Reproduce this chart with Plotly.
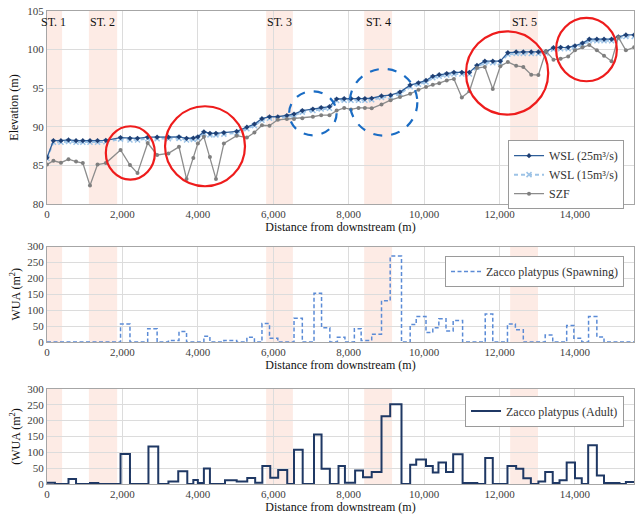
import plotly.graph_objects as go

# ---------------- data ----------------
dist_km = [0.00, 0.17, 0.37, 0.57, 0.77, 0.95, 1.14, 1.34, 1.56, 1.95, 2.20, 2.40, 2.67, 2.92, 3.22,
           3.50, 3.70, 3.88, 4.00, 4.16, 4.32, 4.48, 4.69, 5.03, 5.30, 5.50, 5.70, 5.90, 6.12, 6.36,
           6.55, 6.77, 7.05, 7.27, 7.49, 7.68, 7.88, 8.06, 8.26, 8.43, 8.61, 8.87, 9.11, 9.36, 9.63,
           9.85, 10.05, 10.23, 10.40, 10.60, 10.79, 11.00, 11.20, 11.40, 11.61, 11.82, 12.02, 12.22,
           12.44, 12.63, 12.84, 13.03, 13.23, 13.43, 13.62, 13.82, 14.00, 14.20, 14.38, 14.58, 14.77,
           14.97, 15.15, 15.35, 15.57]
distance = [round(d * 1000) for d in dist_km]

wsl25 = [86.0, 88.2, 88.2, 88.3, 88.2, 88.2, 88.2, 88.2, 88.25, 88.6, 88.5, 88.5, 88.65, 88.65, 88.65,
         88.7, 88.5, 88.55, 88.7, 89.35, 89.15, 89.15, 89.25, 89.4, 89.95, 90.35, 91.05, 91.3, 91.3, 91.45,
         91.65, 92.1, 92.3, 92.5, 92.6, 93.6, 93.65, 93.65, 93.65, 93.65, 93.7, 94.0, 94.1, 94.5, 95.4,
         95.7, 96.0, 96.55, 96.75, 96.9, 97.05, 97.05, 97.05, 97.95, 98.5, 98.5, 98.5, 99.6,
         99.7, 99.7, 99.7, 99.7, 99.75, 100.25, 100.3, 100.3, 100.5, 100.85, 101.35, 101.35, 101.35,
         101.35, 101.65, 101.9, 101.9]

wsl15 = [85.9, 88.0, 88.0, 88.1, 88.0, 88.0, 88.0, 88.0, 88.05, 88.4, 88.3, 88.3, 88.45, 88.45, 88.45,
         88.5, 88.3, 88.35, 88.5, 89.1, 88.95, 88.95, 89.05, 89.2, 89.75, 90.15, 90.85, 91.1, 91.1, 91.25,
         91.45, 91.9, 92.1, 92.3, 92.4, 93.4, 93.45, 93.45, 93.45, 93.45, 93.5, 93.8, 93.9, 94.3, 95.2,
         95.5, 95.8, 96.35, 96.55, 96.7, 96.85, 96.85, 96.85, 97.75, 98.3, 98.3, 98.3, 99.4,
         99.5, 99.5, 99.5, 99.5, 99.55, 100.05, 100.1, 100.1, 100.3, 100.65, 101.15, 101.15, 101.15,
         101.15, 101.45, 101.7, 101.7]

szf = [85.1, 85.6, 85.35, 85.8, 85.5, 85.3, 82.4, 85.1, 85.3, 87.0, 85.05, 84.0, 87.9, 86.35, 86.55,
       87.4, 83.25, 85.95, 87.85, 88.7, 86.1, 83.25, 87.85, 88.85, 88.6, 89.25, 90.2, 90.15, 90.9, 91.0,
       91.0, 91.1, 91.3, 91.5, 91.5, 92.1, 92.45, 92.25, 92.45, 92.45, 92.4, 92.9, 93.45, 93.85, 94.27,
       94.8, 95.15, 95.45, 95.65, 96.0, 96.2, 93.8, 94.6, 97.6, 97.75, 94.9, 97.85, 98.4,
       97.9, 97.75, 96.75, 96.7, 99.8, 98.7, 98.8, 99.1, 99.9, 100.3, 100.6, 99.9, 99.2,
       98.5, 101.6, 99.9, 100.3]

spawn_x = [0, 1950, 2200, 2670, 2920, 3220, 3500, 3700, 4160, 4320, 4690, 5030, 5300, 5500, 5700,
           5900, 6120, 6550, 6770, 7080, 7280, 7500, 7700, 7900, 8150, 8330, 8610, 8870, 9100, 9400,
           9630, 9790, 10050, 10230, 10390, 10580, 10770, 11020, 11620, 11820, 12210, 12420, 12630,
           13210, 13410, 13780, 13970, 14180, 14360, 14580, 14770, 15570]
spawn_wua = [0, 57, 0, 42, 0, 5, 33, 0, 18, 0, 5, 0, 15, 0, 58,
             12, 0, 75, 0, 153, 45, 0, 15, 0, 42, 5, 25, 130, 270, 0,
             55, 80, 30, 45, 73, 35, 68, 0, 88, 0, 57, 39, 0,
             22, 0, 52, 12, 0, 80, 16, 0, 0]

adult_x = [0, 210, 570, 770, 1140, 1360, 1950, 2200, 2690, 2950, 3220, 3480, 3720, 3880, 4000,
           4160, 4320, 4720, 5030, 5310, 5520, 5710, 5920, 6130, 6370, 6550, 6780, 7080, 7280, 7500,
           7730, 7900, 8170, 8380, 8610, 8870, 9100, 9400, 9630, 9790, 10050, 10230, 10380, 10580,
           10770, 11020, 11410, 11620, 11820, 12210, 12440, 12630, 12830, 13030, 13210, 13410, 13590,
           13780, 14000, 14180, 14350, 14580, 14770, 15180, 15350, 15570]
adult_wua = [4, 0, 16, 0, 3, 0, 95, 0, 118, 0, 8, 40, 0, 13, 3,
             49, 0, 12, 8, 19, 4, 57, 20, 44, 0, 108, 0, 156, 48, 0,
             57, 4, 43, 21, 38, 214, 252, 0, 61, 77, 57, 36, 68, 38,
             94, 3, 0, 82, 0, 57, 48, 18, 0, 8, 38, 3, 12,
             68, 18, 0, 122, 27, 3, 0, 6, 6]

station_names = ["ST. 1", "ST. 2", "ST. 3", "ST. 4", "ST. 5"]
station_start = [0, 1110, 5810, 8410, 12280]
station_end = [400, 1860, 6520, 9150, 13020]
station_label_x = [170, 1480, 6160, 8780, 12650]

x_ticks = [0, 2000, 4000, 6000, 8000, 10000, 12000, 14000]
x_range = [0, 15565]

# highlighted zones (x0, x1, y0, y1) in data units of the top panel
red_zones = [(1560, 2860, 83.16, 90.07), (3130, 5250, 82.3, 92.66),
             (11110, 13290, 91.58, 102.37), (13500, 15110, 95.9, 104.1)]
blue_zones = [(6420, 7680, 88.9, 94.6), (8030, 9820, 88.86, 97.5)]

# ---------------- figure ----------------
FONT = "'Liberation Serif', 'DejaVu Serif', 'Times New Roman', serif"
fig = go.Figure()

fig.add_trace(go.Scatter(x=distance, y=wsl25, name="WSL (25m\u00b3/s)", mode="lines+markers",
                         line=dict(color="#2f5f9a", width=1.3),
                         marker=dict(symbol="diamond", size=4, color="#1f3f73"),
                         xaxis="x", yaxis="y", legend="legend", legendrank=1))
fig.add_trace(go.Scatter(x=distance, y=wsl15, name="WSL (15m\u00b3/s)", mode="lines+markers",
                         line=dict(color="#9dc3e6", width=2, dash="4px,3px"),
                         marker=dict(symbol="x-thin", size=5, color="#9dc3e6", line=dict(width=1.5, color="#9dc3e6")),
                         xaxis="x", yaxis="y", legend="legend", legendrank=2))
fig.add_trace(go.Scatter(x=distance, y=szf, name="SZF", mode="lines+markers",
                         line=dict(color="#8c8c8c", width=1.3),
                         marker=dict(symbol="circle", size=4, color="#7f7f7f"),
                         xaxis="x", yaxis="y", legend="legend", legendrank=3))
# draw WSL 25 on top
fig.data = (fig.data[1], fig.data[0], fig.data[2])

fig.add_trace(go.Scatter(x=spawn_x, y=spawn_wua, name="Zacco platypus (Spawning)", mode="lines",
                         line=dict(color="#5b8bd6", width=1.5, dash="4px,2.5px", shape="hv"),
                         xaxis="x2", yaxis="y2", legend="legend2"))
fig.add_trace(go.Scatter(x=adult_x, y=adult_wua, name="Zacco platypus (Adult)", mode="lines",
                         line=dict(color="#1f3864", width=2, shape="hv"),
                         xaxis="x3", yaxis="y3", legend="legend3"))

shapes = []
annotations = []
for xr, yr in [("x", "y"), ("x2", "y2"), ("x3", "y3")]:
    for s, e in zip(station_start, station_end):
        shapes.append(dict(type="rect", xref=xr, yref=yr + " domain", x0=s, x1=e, y0=0, y1=1,
                           fillcolor="rgba(252,225,215,0.65)", line=dict(width=0), layer="below"))
for name, lx in zip(station_names, station_label_x):
    annotations.append(dict(x=lx, y=103.6, xref="x", yref="y", text=name, showarrow=False,
                            font=dict(family=FONT, size=12, color="#111")))
for x0, x1, y0, y1 in red_zones:
    shapes.append(dict(type="circle", xref="x", yref="y", x0=x0, x1=x1, y0=y0, y1=y1,
                       line=dict(color="#ee1c1c", width=2.2), layer="above"))
for x0, x1, y0, y1 in blue_zones:
    shapes.append(dict(type="circle", xref="x", yref="y", x0=x0, x1=x1, y0=y0, y1=y1,
                       line=dict(color="#1a6cc4", width=2.2, dash="dash"), layer="above"))

axis_common = dict(showgrid=True, gridcolor="#dcdcdc", gridwidth=1, showline=True, linecolor="#a6a6a6",
                   linewidth=1, mirror=True, ticks="", zeroline=False,
                   tickfont=dict(family=FONT, size=11, color="#404040"))
xcommon = dict(axis_common, range=x_range, tickvals=x_ticks, tickformat=",d",
               title=dict(text="Distance from downstream (m)", font=dict(family=FONT, size=12, color="#111"), standoff=2))

legend_common = dict(bgcolor="white", bordercolor="#9a9a9a", borderwidth=1,
                     font=dict(family=FONT, size=12, color="#333"), xanchor="right", yanchor="top",
                     tracegroupgap=0, itemwidth=30)

fig.update_layout(
    width=638, height=520,
    margin=dict(l=47, r=4, t=11, b=36),
    font=dict(family=FONT),
    paper_bgcolor="white", plot_bgcolor="white",
    xaxis=dict(xcommon, anchor="y"),
    yaxis=dict(axis_common, domain=[0.592, 1.0], range=[80, 105], dtick=5, anchor="x",
               title=dict(text="Elevation (m)", font=dict(family=FONT, size=12, color="#111"), standoff=6)),
    xaxis2=dict(xcommon, anchor="y2"),
    yaxis2=dict(axis_common, domain=[0.300, 0.502], range=[0, 300], dtick=50, anchor="x2",
                title=dict(text="WUA (m<sup>2</sup>)", font=dict(family=FONT, size=12, color="#111"), standoff=4)),
    xaxis3=dict(xcommon, anchor="y3"),
    yaxis3=dict(axis_common, domain=[0.0, 0.201], range=[0, 300], dtick=50, anchor="x3",
                title=dict(text="(WUA (m<sup>2</sup>)", font=dict(family=FONT, size=12, color="#111"), standoff=4)),
    legend=dict(legend_common, x=0.983, y=0.727),
    legend2=dict(legend_common, x=0.983, y=0.482),
    legend3=dict(legend_common, x=0.983, y=0.187),
    shapes=shapes, annotations=annotations,
    showlegend=True,
)

fig.write_html("out.html")
